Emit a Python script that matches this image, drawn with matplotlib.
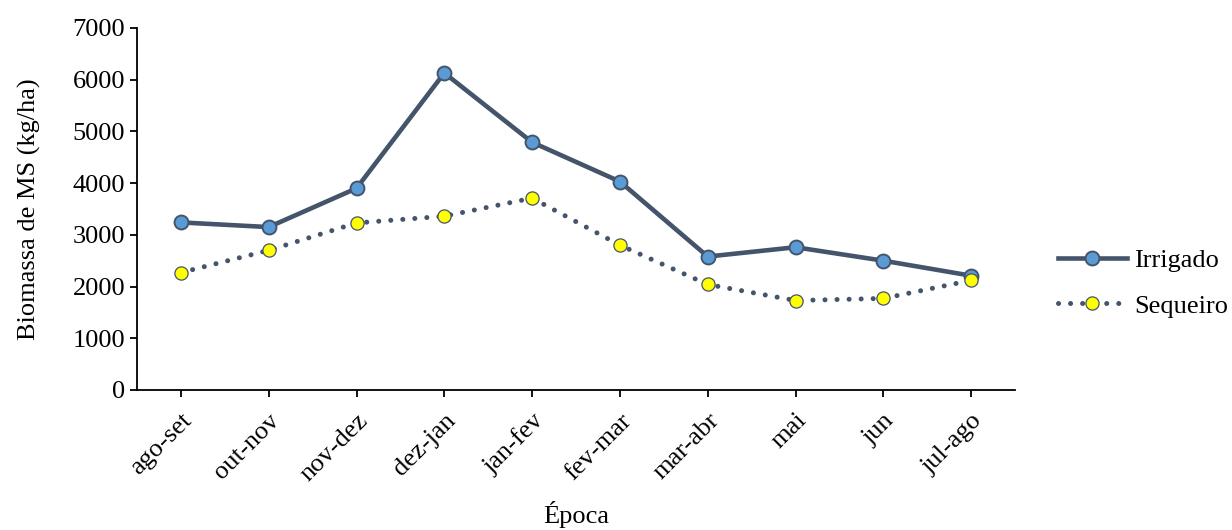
import matplotlib
matplotlib.use("Agg")
import matplotlib.pyplot as plt

plt.rcParams['font.family'] = ['Liberation Serif', 'DejaVu Serif']

epocas = ["ago-set", "out-nov", "nov-dez", "dez-jan", "jan-fev",
          "fev-mar", "mar-abr", "mai", "jun", "jul-ago"]
irrigado = [3240, 3150, 3900, 6130, 4790, 4030, 2580, 2760, 2500, 2210]
sequeiro = [2270, 2700, 3230, 3360, 3710, 2800, 2040, 1730, 1770, 2120]

fs = 19

fig = plt.figure(figsize=(12.32, 5.30), dpi=100)
ax = fig.add_axes([0.1112, 0.2642, 0.7127, 0.683])

x = range(len(epocas))
ax.plot(x, irrigado, color="#44546A", lw=3.3, marker="o", ms=10,
        mfc="#5B9BD5", mec="#44546A", mew=1.4, label="Irrigado", zorder=3)
ax.plot(x, sequeiro, color="#44546A", lw=3.6, ls=(0, (0.01, 2.4)),
        dash_capstyle="round", marker="o", ms=9.5, mfc="#FFFF00",
        mec="#44546A", mew=0.9, label="Sequeiro", zorder=4)

ax.set_xlim(-0.5, len(epocas) - 0.5)
ax.set_ylim(0, 7000)
ax.set_yticks(range(0, 7001, 1000))
ax.set_xticks(list(x))
ax.set_xticklabels(epocas, rotation=45, ha="right", rotation_mode="anchor")
ax.tick_params(labelsize=fs, direction="out", length=5, width=1.3)
ax.tick_params(axis="x", pad=9)
for s in ["top", "right"]:
    ax.spines[s].set_visible(False)
for s in ["left", "bottom"]:
    ax.spines[s].set_linewidth(1.3)

ax.set_ylabel("Biomassa de MS (kg/ha)", fontsize=fs, labelpad=23)
ax.set_xlabel("Época", fontsize=fs, labelpad=11)

fig.legend(loc="center left", bbox_to_anchor=(0.8395, 0.466), frameon=False,
           fontsize=fs, handlelength=2.6, handletextpad=0.3, labelspacing=0.85)

fig.savefig("out.png", dpi=100)
